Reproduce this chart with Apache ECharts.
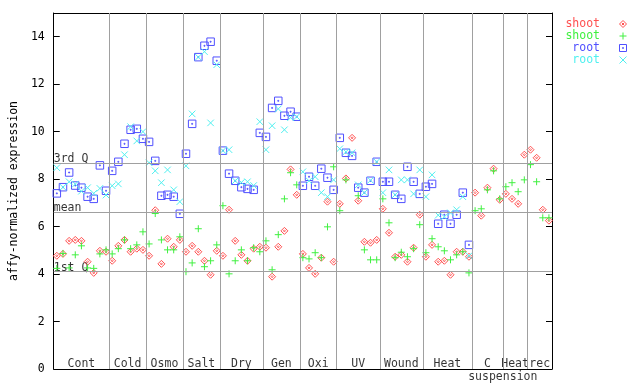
<!DOCTYPE html>
<html><head><meta charset="utf-8">
<script src="https://cdn.jsdelivr.net/npm/echarts@6/dist/echarts.min.js"></script>
<style>html,body{margin:0;padding:0;background:#fff}#c{width:640px;height:384px}</style>
</head><body><div id="c"></div>
<script>
// ---- data ----
const groupNames = ['Cont','Cold','Osmo','Salt','Dry','Gen','Oxi','UV','Wound','Heat','C','Heat','rec'];
const groupSizes = [9,6,6,6,7,6,6,7,7,8,5,4,4];
const groupSubLabels = ['','','','','','','','','','','suspension','',''];
const statNames = ['3rd Q','mean','1st Q'];
const statValues = [8.69, 6.62, 4.10];
const yTicks = [0,2,4,6,8,10,12,14];

const shootRed = [
  4.77,4.85,5.40,5.44,5.40,4.52,4.05,4.98,4.94,
  4.56,5.19,5.44,4.94,5.07,5.02,
  4.77,6.69,4.43,5.49,5.15,5.44,
  4.94,5.19,4.94,4.56,3.97,4.98,
  4.77,6.71,5.40,4.81,4.56,5.07,5.15,
  5.11,3.89,5.15,5.82,8.41,7.34,
  4.85,4.26,4.01,4.69,7.05,4.52,
  6.96,8.03,9.74,7.09,5.36,5.32,5.44,
  6.75,5.74,4.73,4.81,4.52,5.11,6.50,
  4.73,5.23,4.52,4.56,3.97,4.94,4.94,4.73,
  7.43,6.46,7.64,8.44,7.13,
  7.38,7.17,6.96,9.03,
  9.24,8.90,6.71,6.25
];
const shootGreen = [
  4.24,4.87,4.26,4.81,5.19,4.26,4.24,4.85,5.02,
  4.85,5.07,5.44,5.07,5.23,5.78,
  5.27,6.55,5.44,5.02,5.02,5.57,
  4.10,4.47,5.91,4.31,4.56,5.23,
  6.88,4.01,4.56,5.02,4.56,5.11,4.94,
  5.40,4.18,5.66,7.17,8.27,7.76,
  4.69,4.64,4.90,4.69,5.99,8.52,
  6.67,7.97,null,7.30,5.02,4.60,4.60,
  7.17,6.16,4.69,4.92,4.73,5.07,6.08,
  4.90,5.49,5.15,4.98,4.60,4.81,4.94,4.05,
  6.67,6.75,7.55,8.35,7.17,
  7.68,7.85,7.47,7.97,
  8.61,7.89,6.37,6.37
];
const rootBlue = [
  7.40,7.66,8.28,7.73,7.64,7.26,7.17,8.58,7.51,
  8.35,8.73,9.49,10.08,10.12,9.70,
  9.57,8.77,7.30,7.34,7.26,6.54,
  9.07,10.33,13.14,13.62,13.79,12.99,
  9.20,8.23,7.93,7.66,7.59,7.55,9.95,
  9.78,11.00,11.30,10.67,10.84,10.63,
  7.72,8.10,7.72,8.44,8.06,7.55,
  9.74,9.11,8.98,7.64,7.43,7.93,8.73,
  7.89,7.89,7.34,7.17,8.52,7.89,7.38,
  7.68,7.80,6.12,6.50,6.12,6.50,7.43,5.23,
  null,null,null,null,null,
  null,null,null,null,
  null,null,null,null
];
const rootCyan = [
  8.48,7.66,7.89,7.79,7.49,7.64,7.40,7.61,7.33,
  7.72,7.80,9.03,10.21,9.61,10.00,
  8.69,8.35,7.85,8.39,7.55,7.05,
  8.56,10.75,13.14,13.37,10.37,12.82,
  9.20,9.24,7.93,7.86,7.89,7.73,10.42,
  9.24,10.25,10.96,10.08,10.59,10.63,
  8.31,7.93,8.10,7.43,7.26,7.97,
  9.28,9.15,9.11,7.76,7.43,7.95,8.73,
  7.43,8.39,7.34,7.97,7.97,7.38,8.39,
  7.26,8.18,6.48,6.41,6.58,6.71,7.26,4.77,
  null,null,null,null,null,
  null,null,null,null,
  null,null,null,null
];

// ---- chart ----
const FONT = 'DejaVu Sans Mono';
const FS = 11.5;
const nSamples = shootRed.length;
const pts = arr => arr.map((v,i)=> v==null ? null : [i+0.5, v]).filter(Boolean);

const bounds = [];
let acc = 0;
groupSizes.forEach(s => { acc += s; bounds.push(acc); });
const starts = bounds.map((b,i)=> b - groupSizes[i]);

const SYM = {
  diamond: 'path://M3.5,0L7,3.5L3.5,7L0,3.5Z M3.5,2.5L4.5,3.5L3.5,4.5L2.5,3.5Z',
  plus: 'path://M0,3.5L7,3.5M3.5,0L3.5,7',
  square: 'path://M0,0L8,0L8,8L0,8Z M3.5,3.5L4.5,3.5L4.5,4.5L3.5,4.5Z',
  cross: 'path://M0,0L7,7M7,0L0,7'
};
const defs = [
  {name:'shoot A', data: shootRed,  color:'#ff5050', symbol: SYM.diamond, size: 7},
  {name:'shoot B', data: shootGreen,color:'#40f040', symbol: SYM.plus,    size: 7},
  {name:'root A',  data: rootBlue,  color:'#5050ff', symbol: SYM.square,  size: 7.5},
  {name:'root B',  data: rootCyan,  color:'#50f0f0', symbol: SYM.cross,   size: 6.5}
];

const gray = '#a0a0a0';
const series = defs.map(d => ({
  type:'scatter', name:d.name, data: pts(d.data), symbol:d.symbol, symbolSize:d.size,
  itemStyle:{color:'transparent', borderColor:d.color, borderWidth:1, opacity:1},
  emphasis:{disabled:true}, animation:false, z: 3
}));

// reference lines + text
const labelData = [];
groupNames.forEach((g,i)=>{
  labelData.push({value:[(starts[i]+bounds[i])/2, 0.22], label:{formatter:g, position:'inside'}});
  if (groupSubLabels[i]) labelData.push({value:[bounds[i], -0.32], label:{formatter:groupSubLabels[i], position:'inside'}});
});
statNames.forEach((s,i)=>{
  labelData.push({value:[0, statValues[i]], label:{formatter:s, position:'right', distance:0, offset:[0,-4]}});
});

series.unshift({
  type:'scatter', name:'_labels', data: labelData, symbolSize:0, silent:true, clip:false, animation:false, z:2,
  label:{show:true, color:'#000', fontFamily:FONT, fontSize:FS},
  markLine:{
    silent:true, symbol:['none','none'], animation:false,
    label:{show:false},
    lineStyle:{color:gray, type:'solid', width:1},
    data: bounds.slice(0,-1).map(b=>({xAxis:b})).concat(statValues.map(v=>({yAxis:v})))
  }
});

const axisCommonX = {type:'value', min:0, max:nSamples, axisLine:{show:true,onZero:false,lineStyle:{color:'#000',width:1}},
  axisTick:{show:false}, axisLabel:{show:false}, splitLine:{show:false}};
const chart = echarts.init(document.getElementById('c'), null, {renderer:'canvas'});
chart.setOption({
  backgroundColor:'#fff',
  animation:false,
  grid:{left:44, right:88, top:13, bottom:15},
  xAxis:[Object.assign({position:'bottom'}, axisCommonX), Object.assign({position:'top'}, axisCommonX)],
  yAxis:[
    {type:'value', min:yTicks[0], max:15, interval:2, position:'left',
     name:'affy-normalized expression', nameLocation:'middle', nameGap:27, nameRotate:90,
     nameTextStyle:{fontFamily:FONT, fontSize:FS, color:'#000'},
     axisLine:{show:true,onZero:false,lineStyle:{color:'#000',width:1}},
     axisTick:{show:true, inside:true, length:6, lineStyle:{color:'#000'}},
     axisLabel:{fontFamily:FONT, fontSize:FS, color:'#000', margin:9, showMaxLabel:false,
       formatter: v => yTicks.indexOf(v) >= 0 ? String(v) : ''},
     splitLine:{show:false}},
    {type:'value', min:yTicks[0], max:15, interval:2, position:'right',
     axisLine:{show:true,onZero:false,lineStyle:{color:'#000',width:1}},
     axisTick:{show:true, inside:true, length:6, lineStyle:{color:'#000'}},
     axisLabel:{show:false}, splitLine:{show:false}}
  ],
  legend:{
    orient:'vertical', right:13, top:18, padding:0, align:'right',
    itemWidth:36, itemHeight:7, itemGap:0, selectedMode:false,
    formatter: n => n.split(' ')[0],
    textStyle:{fontFamily:FONT, fontSize:FS, lineHeight:11},
    data: defs.map(d=>({name:d.name, icon:d.symbol,
      itemStyle:{color:'transparent', borderColor:d.color, borderWidth:1},
      textStyle:{color:d.color}}))
  },
  series
});
</script>
</body></html>
